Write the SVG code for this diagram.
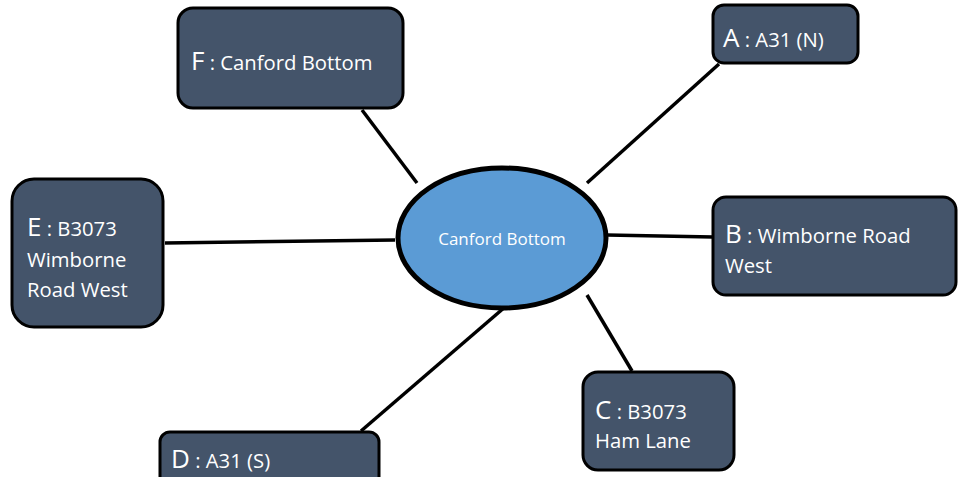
<svg xmlns="http://www.w3.org/2000/svg" width="959" height="477" viewBox="0 0 959 477">
<style>
.box{fill:#44546a;stroke:#000;stroke-width:3}
.ln{stroke:#000;stroke-width:3.5;fill:none}
text{font-family:"Open Sans","Noto Sans","Liberation Sans",sans-serif;fill:#fff}
.big{font-size:26px}
.sm{font-size:20.3px}
</style>
<rect width="959" height="477" fill="#fff"/>
<g id="connectors">
<line class="ln" x1="362" y1="110" x2="417" y2="183"/>
<line class="ln" x1="719" y1="64" x2="587" y2="183"/>
<line class="ln" x1="165" y1="243" x2="395" y2="240"/>
<line class="ln" x1="607" y1="235" x2="713" y2="237"/>
<line class="ln" x1="587" y1="295" x2="632" y2="371"/>
<line class="ln" x1="505" y1="307" x2="361" y2="431"/>
</g>
<g id="center">
<ellipse cx="502" cy="238" rx="104" ry="70" fill="#5b9bd5" stroke="#000" stroke-width="5"/>
<text x="502" y="245" text-anchor="middle" font-size="17">Canford Bottom</text>
</g>
<g id="nodeF">
<rect class="box" x="178" y="8" width="225" height="100" rx="15"/>
<text x="191" y="70"><tspan class="big">F</tspan><tspan class="sm"> : Canford Bottom</tspan></text>
</g>
<g id="nodeA">
<rect class="box" x="713" y="5" width="145" height="58" rx="11"/>
<text x="723" y="47"><tspan class="big">A</tspan><tspan class="sm"> : A31 (N)</tspan></text>
</g>
<g id="nodeE">
<rect class="box" x="12" y="179" width="151" height="148" rx="22"/>
<text x="27" y="236"><tspan class="big">E</tspan><tspan class="sm"> : B3073</tspan></text>
<text x="27" y="267" class="sm">Wimborne</text>
<text x="27" y="297" class="sm">Road West</text>
</g>
<g id="nodeB">
<rect class="box" x="713" y="197" width="243" height="98" rx="13"/>
<text x="725" y="243"><tspan class="big">B</tspan><tspan class="sm"> : Wimborne Road</tspan></text>
<text x="725" y="273" class="sm">West</text>
</g>
<g id="nodeC">
<rect class="box" x="583" y="372" width="151" height="98" rx="15"/>
<text x="595" y="419"><tspan class="big">C</tspan><tspan class="sm"> : B3073</tspan></text>
<text x="595" y="448" class="sm">Ham Lane</text>
</g>
<g id="nodeD">
<rect class="box" x="160" y="432" width="219" height="60" rx="10"/>
<text x="171" y="468"><tspan class="big">D</tspan><tspan class="sm"> : A31 (S)</tspan></text>
</g>
</svg>
